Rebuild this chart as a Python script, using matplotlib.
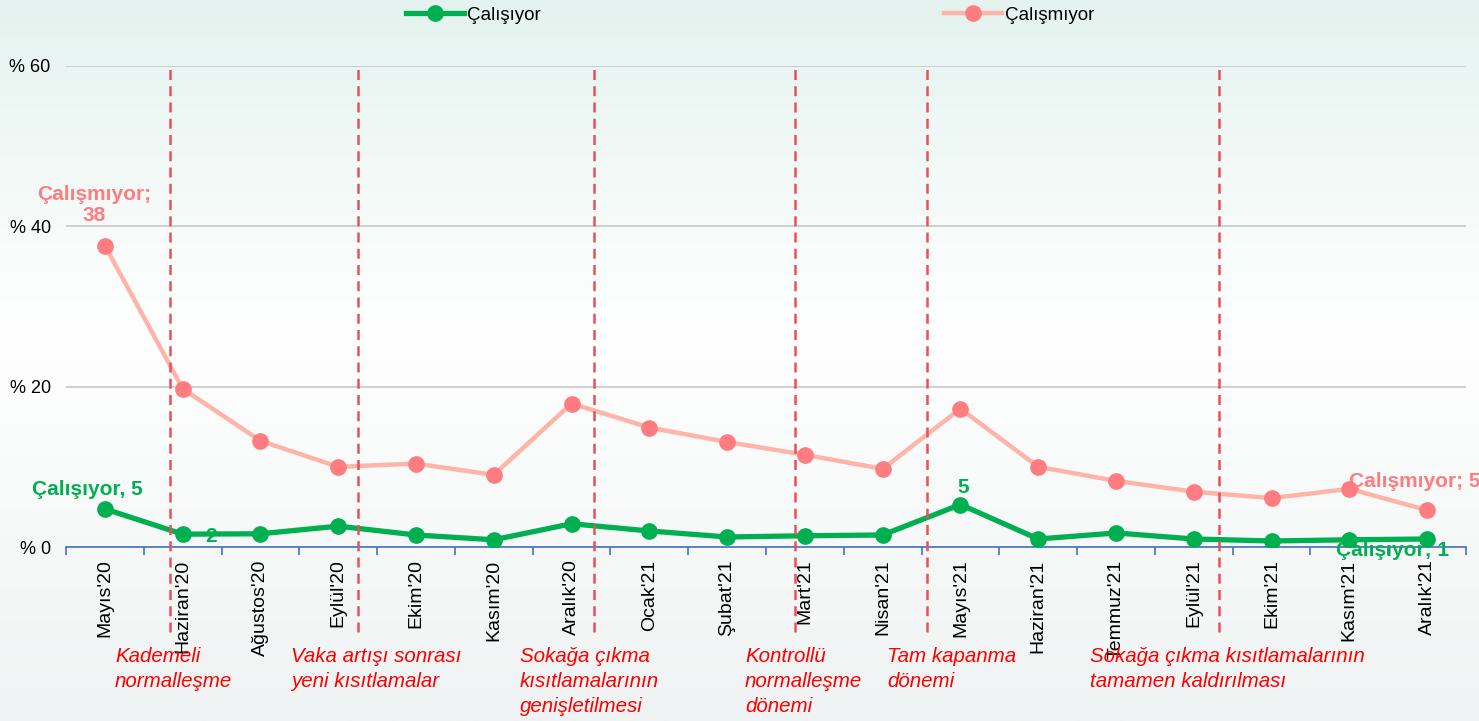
import numpy as np
import matplotlib.pyplot as plt

plt.rcParams['font.family'] = ['Liberation Sans', 'DejaVu Sans']

months = ["Mayıs'20", "Haziran'20", "Ağustos'20", "Eylül'20", "Ekim'20", "Kasım'20",
          "Aralık'20", "Ocak'21", "Şubat'21", "Mart'21", "Nisan'21", "Mayıs'21",
          "Haziran'21", "Temmuz'21", "Eylül'21", "Ekim'21", "Kasım'21", "Aralık'21"]
calisiyor = [4.75, 1.6, 1.65, 2.6, 1.5, 0.9, 2.9, 2.0, 1.25, 1.4, 1.5, 5.3,
             1.0, 1.75, 1.0, 0.75, 0.9, 1.0]
calismiyor = [37.6, 19.75, 13.25, 10.0, 10.4, 9.0, 17.9, 14.9, 13.1, 11.5, 9.75, 17.25,
              10.0, 8.25, 6.9, 6.1, 7.25, 4.6]

# policy events: position between categories and the note under the axis
event_pos = [0.84, 3.25, 6.29, 8.87, 10.57, 14.32]
event_text = ["Kademeli\nnormalleşme",
              "Vaka artışı sonrası\nyeni kısıtlamalar",
              "Sokağa çıkma\nkısıtlamalarının\ngenişletilmesi",
              "Kontrollü\nnormalleşme\ndönemi",
              "Tam kapanma\ndönemi",
              "Sokağa çıkma kısıtlamalarının\ntamamen kaldırılması"]
event_text_x = [115, 291, 520, 745, 887, 1090]

green = '#00b050'
pink_line = '#ffb4a8'
pink_dot = '#ff7c80'
red = '#ff0000'

W, H = 1479, 721
fig = plt.figure(figsize=(W / 100, H / 100), dpi=100)

# background gradient
bg = fig.add_axes([0, 0, 1, 1], zorder=-10)
t = np.linspace(0, 1, 256)
top = np.array([228, 243, 239]) / 255
mid = np.array([255, 255, 255]) / 255
bot = np.array([240, 243, 243]) / 255
cols = np.where(t[:, None] < 0.45,
                top + (mid - top) * (t[:, None] / 0.45),
                mid + (bot - mid) * ((t[:, None] - 0.45) / 0.55))
bg.imshow(cols[:, None, :], aspect='auto', extent=[0, 1, 0, 1])
bg.axis('off')

ax = fig.add_axes([66 / W, 1 - 547 / H, 1400 / W, 481 / H])
ax.patch.set_alpha(0)
x = np.arange(len(months))

ax.set_xlim(-0.5, len(months) - 0.5)
ax.set_ylim(0, 60)
ax.set_yticks([0, 20, 40, 60])
ax.set_yticklabels(['% 0', '% 20', '% 40', '% 60'], fontsize=13)
ax.yaxis.grid(True, color='#c8c8c8', lw=1.2)
ax.set_axisbelow(True)
ax.tick_params(axis='y', length=0, pad=11)

ax.set_xticks(x)
ax.set_xticklabels(months, rotation=90, fontsize=14)
ax.tick_params(axis='x', length=0, pad=9)
ax.set_xticks(np.arange(-0.5, len(months)), minor=True)
ax.tick_params(axis='x', which='minor', length=6, color='#4472c4', width=1.2)

for s in ['top', 'right', 'left']:
    ax.spines[s].set_visible(False)
ax.spines['bottom'].set_color('#4472c4')
ax.spines['bottom'].set_linewidth(1.2)

ax.plot(x, calismiyor, color=pink_line, lw=3.2, marker='o', ms=11,
        mfc=pink_dot, mec=pink_dot, label='Çalışmıyor', zorder=3)
ax.plot(x, calisiyor, color=green, lw=3.8, marker='o', ms=11,
        mfc=green, mec=green, label='Çalışıyor', zorder=4)

for p in event_pos:
    ax.plot([p, p], [-10.6, 60], color='#e8505b', lw=1.8, ls=(0, (4, 2.5)),
            clip_on=False, zorder=5)

for tx, txt in zip(event_text_x, event_text):
    fig.text(tx / W, 1 - 647 / H, txt, color=red, fontsize=14.8, style='italic',
             ha='left', va='top', linespacing=1.4)

lab = dict(fontsize=15, fontweight='bold', textcoords='offset pixels')
ax.annotate('Çalışmıyor;\n38', (0, calismiyor[0]), xytext=(-11, 21),
            ha='center', va='bottom', color=pink_dot, linespacing=1.1, **lab)
ax.annotate('Çalışıyor, 5', (0, calisiyor[0]), xytext=(-18, 10),
            ha='center', va='bottom', color=green, **lab)
ax.annotate('2', (1, calisiyor[1]), xytext=(28, -2),
            ha='center', va='center', color=green, **lab)
ax.annotate('5', (11, calisiyor[11]), xytext=(3, 8),
            ha='center', va='bottom', color=green, **lab)
ax.annotate('Çalışmıyor; 5', (17, calismiyor[17]), xytext=(-78, 29),
            ha='left', va='center', color=pink_dot, annotation_clip=False, **lab)
ax.annotate('Çalışıyor; 1', (17, calisiyor[17]), xytext=(-35, -12),
            ha='center', va='center', color=green, **lab)

handles, labels = ax.get_legend_handles_labels()
fig.legend(handles[::-1], labels[::-1], loc='center', ncol=2,
           bbox_to_anchor=(0.507, 1 - 15 / H), frameon=False, fontsize=13.5,
           handlelength=3.1, handletextpad=0.15, columnspacing=21.5)

fig.savefig('out.png', dpi=100)
